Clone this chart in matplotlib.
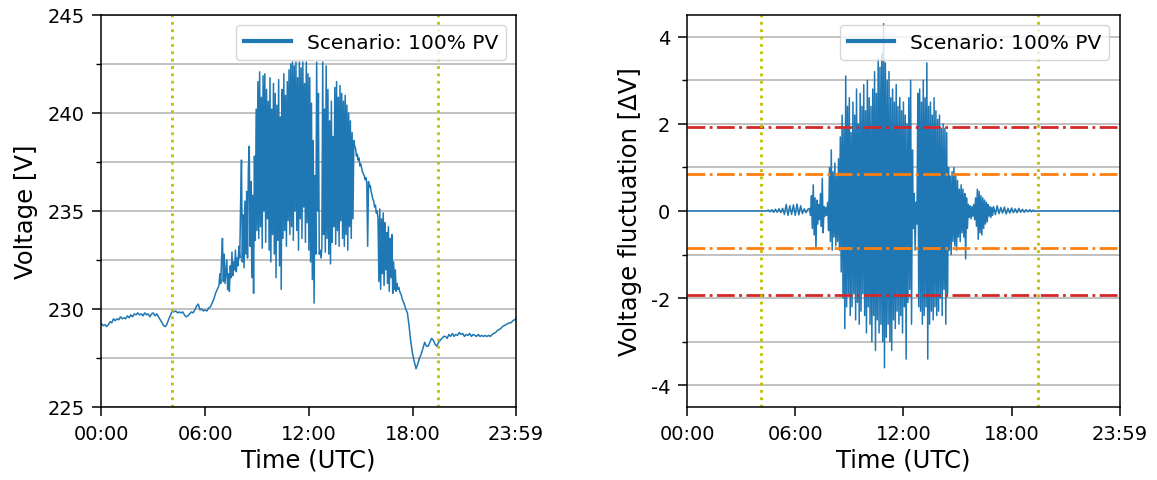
import numpy as np
import matplotlib
matplotlib.use("Agg")
import matplotlib.pyplot as plt
from matplotlib.ticker import MultipleLocator

plt.rcParams["axes.unicode_minus"] = False

END_OF_DAY = 23 + 59 / 60

# ---------------- Voltage profile [V] ----------------
# (start hour, sample spacing in hours, values)
voltage_night_start, voltage_night_step = 0.0, 0.1
voltage_night = [
    229.25, 229.15, 229.2, 229.1, 229.2, 229.35, 229.3, 229.5, 229.4, 229.5,
    229.45, 229.6, 229.5, 229.55, 229.5, 229.65, 229.55, 229.7, 229.6, 229.75,
    229.7, 229.8, 229.7, 229.75, 229.65, 229.8, 229.7, 229.75, 229.6, 229.75,
    229.8, 229.65, 229.75, 229.6, 229.45, 229.3, 229.15, 229.1, 229.25, 229.5,
    229.7, 229.9, 229.85, 229.9, 229.8, 229.85, 229.8, 229.85, 229.7, 229.6,
    229.65, 229.75, 229.85, 229.8, 229.95, 230.15, 230.25, 229.95, 230.0, 229.9,
    229.95, 229.9, 230.05, 230.1, 230.3, 230.5, 230.8, 231.0, 231.2,
]

voltage_day_start, voltage_day_step = 6.85, 0.05
voltage_day = [
    231.8, 231.3, 232.6,
    # 07:00
    233.6, 231.4, 232.8, 231.3, 231.9, 232.5, 231.0, 231.8, 230.9, 232.2,
    231.6, 232.9, 231.7, 232.4, 232.0, 233.0, 231.9, 232.6, 232.2, 233.2,
    # 08:00
    232.6, 235.4, 237.6, 232.4, 234.8, 232.1, 235.5, 232.8, 236.0, 232.6,
    237.2, 238.3, 233.2, 236.5, 231.6, 235.8, 230.8, 237.8, 233.5, 240.2,
    # 09:00
    234.0, 241.6, 233.6, 242.1, 234.2, 240.8, 233.1, 241.9, 235.0, 242.0,
    233.4, 241.2, 234.6, 240.6, 233.0, 241.8, 232.4, 240.2, 233.8, 241.5,
    # 10:00
    232.8, 241.0, 231.6, 240.4, 233.5, 241.7, 232.2, 239.8, 231.0, 241.2,
    233.6, 242.0, 234.0, 240.9, 233.2, 241.6, 234.5, 242.2, 233.8, 242.5,
    # 11:00
    234.2, 242.6, 233.5, 242.4, 235.0, 242.6, 234.0, 241.8, 233.0, 242.6,
    234.6, 242.3, 233.6, 242.6, 235.2, 241.5, 233.4, 242.6, 234.4, 242.0,
    # 12:00
    233.0, 241.8, 232.4, 240.5, 231.5, 238.6, 230.3, 236.8, 232.8, 242.6,
    235.0, 241.0, 232.8, 233.0, 232.6, 233.1, 242.6, 233.8, 240.2, 232.9,
    # 13:00
    242.4, 233.6, 241.2, 232.8, 239.6, 232.3, 240.6, 233.4, 238.8, 234.2,
    241.3, 233.3, 241.6, 234.0, 240.8, 233.2, 241.4, 234.5, 241.0, 233.6,
    # 14:00
    240.6, 233.2, 240.9, 233.8, 240.4, 233.0, 240.0, 234.2, 239.6, 233.6,
    239.0, 234.6, 238.6, 238.3, 238.2, 237.8, 237.9, 237.6, 237.7, 237.3,
    # 15:00
    237.4, 237.2, 237.0, 236.9, 236.8, 236.6, 236.7, 236.4, 233.2, 236.5,
    236.2, 236.3, 236.0, 235.8, 235.6, 235.5, 235.2, 235.3, 234.9, 235.0,
    # 16:00
    234.6, 231.4, 235.1, 231.0, 234.6, 231.8, 234.9, 231.2, 234.4, 232.0,
    233.9, 231.3, 234.2, 230.9, 233.6, 231.6, 233.8, 230.8, 232.4, 231.0,
    # 17:00
    232.0, 230.9, 231.3, 231.0, 231.1, 230.9, 230.8, 230.7, 230.5, 230.4,
]

voltage_evening_start, voltage_evening_step = 17.5, 0.1
voltage_evening = [
    230.3, 230.0, 229.8, 229.1, 228.3,
    227.7, 227.3, 226.95, 227.2, 227.5, 227.7, 228.0, 228.3, 228.1, 228.1,
    228.3, 228.5, 228.4, 228.2, 228.1, 228.3, 228.4, 228.5, 228.6, 228.6,
    228.5, 228.7, 228.6, 228.75, 228.6, 228.7, 228.65, 228.8, 228.7, 228.75,
    228.6, 228.7, 228.65, 228.75, 228.6, 228.7, 228.65, 228.6, 228.7, 228.6,
    228.65, 228.6, 228.65, 228.6, 228.65, 228.6, 228.7, 228.75, 228.8, 228.9,
    228.95, 229.0, 229.1, 229.15, 229.2, 229.25, 229.3, 229.3, 229.4, 229.45,
]
voltage_last = 229.5

# ---------------- Voltage fluctuation [dV] ----------------
fluct_quiet_morning_hours = [0.0, 4.4]
fluct_quiet_morning = [0.0, 0.0]

fluct_dawn_start, fluct_dawn_step = 4.5, 0.1
fluct_dawn = [
    0.02, -0.02, 0.03, -0.03, 0.04, -0.03, 0.05, -0.04, 0.06, -0.08,
    0.15, -0.10, 0.12, -0.08, 0.14, -0.10, 0.16, -0.09, 0.12, -0.06,
    0.05, -0.04, 0.04,
]

fluct_day_start, fluct_day_step = 6.8, 0.05
fluct_day = [
    0.06, -0.10,
    0.35, -0.40, 0.60, -0.55, 0.30, -0.86, 0.25, -0.30, 0.15, -0.20,
    0.40, -0.35, 0.75, -0.50, 0.10, -0.12, 0.08, -0.10, 0.20, -0.45,
    1.0, -0.7, 1.4, -0.9, 0.9, -0.6, 1.1, -0.8, 0.8, -0.7,
    1.2, -0.9, 1.7, -1.4, 2.2, -2.0, 1.9, -2.7, 3.1, -2.2,
    2.4, -1.9, 2.6, -2.4, 1.8, -2.2, 2.5, -1.9, 2.2, -2.5,
    2.8, -2.1, 2.0, -2.6, 2.7, -2.3, 2.4, -1.9, 2.9, -2.4,
    2.3, -2.8, 3.0, -2.2, 2.6, -2.6, 2.4, -3.0, 2.8, -2.4,
    3.2, -3.2, 2.7, -2.5, 3.5, -2.8, 3.3, -2.6, 3.6, -3.0,
    4.3, -3.6, 3.4, -2.9, 3.0, -2.6, 3.2, -3.0, 2.6, -3.2,
    2.8, -2.5, 2.5, -2.7, 2.9, -2.3, 2.4, -2.6, 2.6, -2.4,
    2.3, -2.8, 2.5, -2.2, 2.2, -3.4, 2.0, -2.1, 2.6, -1.8,
    3.0, -2.6, 1.4, -0.4, 0.4, -0.9, 0.2, -0.3, 2.7, -2.2,
    2.8, -2.3, 2.5, -2.6, 3.0, -2.4, 2.6, -2.2, 3.4, -3.4,
    2.4, -2.6, 2.5, -2.3, 2.2, -2.5, 2.6, -2.2, 2.3, -2.4,
    2.1, -2.3, 2.2, -2.0, 1.9, -2.4, 2.0, -1.8, 1.9, -2.6,
    1.8, -1.9, 1.0, -0.9, 0.8, -1.0, 0.9, -0.7, 1.0, -0.8,
    0.85, -0.9, 0.7, -0.6, 0.5, -0.7, 0.6, -0.5, 0.5, -0.6,
    0.4, -1.1, 0.3, -0.4, 0.15, -0.15, 0.12, -0.18, 0.10, -0.12,
    0.15, -0.2, 0.3, -0.35, 0.5, -0.65, 0.45, -0.5, 0.35, -0.55,
    0.3, -0.4, 0.25, -0.3, 0.2, -0.25, 0.15, -0.12, 0.10, -0.15,
    0.08, -0.10,
]

fluct_dusk_start, fluct_dusk_step = 17.0, 0.1
fluct_dusk = [
    0.10, -0.08, 0.12, -0.06, 0.08, -0.05, 0.09, -0.07, 0.06, -0.05,
    0.07, -0.04, 0.05, -0.04, 0.06, -0.03, 0.04, -0.03, 0.03, -0.02,
    0.03, -0.02, 0.02, -0.01,
]

fluct_quiet_evening_hours = [19.4, END_OF_DAY]
fluct_quiet_evening = [0.0, 0.0]

# Sunrise / sunset and fluctuation limits
sun_hours = [4.1, 19.45]
limit_red = 1.93
limit_orange = 0.84

tick_hours = [0, 6, 12, 18, END_OF_DAY]
tick_labels = ["00:00", "06:00", "12:00", "18:00", "23:59"]
series_label = "Scenario: 100% PV"


def sampled(start, step, values):
    return start + step * np.arange(len(values)), np.asarray(values, float)


def join(*parts):
    hours = np.concatenate([p[0] for p in parts])
    vals = np.concatenate([p[1] for p in parts])
    return hours, vals


v_hours, v_vals = join(
    sampled(voltage_night_start, voltage_night_step, voltage_night),
    sampled(voltage_day_start, voltage_day_step, voltage_day),
    sampled(voltage_evening_start, voltage_evening_step, voltage_evening),
    (np.array([END_OF_DAY]), np.array([voltage_last])),
)

f_hours, f_vals = join(
    (np.array(fluct_quiet_morning_hours), np.array(fluct_quiet_morning)),
    sampled(fluct_dawn_start, fluct_dawn_step, fluct_dawn),
    sampled(fluct_day_start, fluct_day_step, fluct_day),
    sampled(fluct_dusk_start, fluct_dusk_step, fluct_dusk),
    (np.array(fluct_quiet_evening_hours), np.array(fluct_quiet_evening)),
)

BLUE = "#1f77b4"
TICK_FS = 14
LABEL_FS = 17.5
LEGEND_FS = 14.5

fig = plt.figure(figsize=(11.57, 4.81), dpi=100)
ax1 = fig.add_axes([0.0877, 0.1518, 0.3583, 0.815])
ax2 = fig.add_axes([0.5938, 0.1518, 0.3738, 0.815])

# Left: absolute voltage
ax1.plot(v_hours, v_vals, color=BLUE, lw=1.1, label=series_label)
for h in sun_hours:
    ax1.axvline(h, color="y", ls=":", lw=2)
ax1.set_ylim(225, 245)
ax1.yaxis.set_major_locator(MultipleLocator(5))
ax1.yaxis.set_minor_locator(MultipleLocator(2.5))
ax1.set_ylabel("Voltage [V]", fontsize=LABEL_FS, labelpad=6.4)

# Right: fluctuation around the moving mean
ax2.plot(f_hours, f_vals, color=BLUE, lw=1.1, label=series_label)
for lim, col in [(limit_red, "tab:red"), (limit_orange, "tab:orange")]:
    ax2.axhline(lim, color=col, ls="-.", lw=2)
    ax2.axhline(-lim, color=col, ls="-.", lw=2)
for h in sun_hours:
    ax2.axvline(h, color="y", ls=":", lw=2)
ax2.set_ylim(-4.5, 4.5)
ax2.yaxis.set_major_locator(MultipleLocator(2))
ax2.yaxis.set_minor_locator(MultipleLocator(1))
ax2.set_ylabel("Voltage fluctuation [ΔV]", fontsize=LABEL_FS, labelpad=6.4)

for ax in (ax1, ax2):
    ax.set_xlim(0, END_OF_DAY)
    ax.set_xticks(tick_hours)
    ax.set_xticklabels(tick_labels)
    ax.set_xlabel("Time (UTC)", fontsize=LABEL_FS, labelpad=3.6)
    ax.tick_params(which="major", labelsize=TICK_FS, length=6.8, pad=5.4, width=1.1)
    ax.tick_params(which="minor", length=3.9, width=1.0)
    for sp in ax.spines.values():
        sp.set_linewidth(1.1)
    ax.grid(axis="y", which="both", color="#b0b0b0", lw=1.1)
    leg = ax.legend(loc="upper right", fontsize=LEGEND_FS, handlelength=2.3)
    for handle in leg.legend_handles:
        handle.set_linewidth(3)

fig.savefig("out.png", dpi=100)
